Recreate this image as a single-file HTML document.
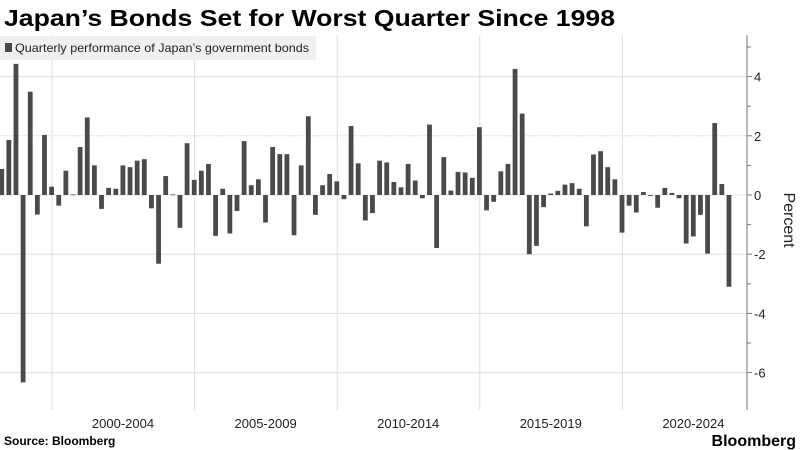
<!DOCTYPE html>
<html><head><meta charset="utf-8"><style>
body{margin:0;background:#fff;font-family:"Liberation Sans",sans-serif;}
#wrap{position:relative;width:800px;height:450px;overflow:hidden;}
</style></head><body>
<div id="wrap">
<svg id="c" width="800" height="450">
<text x="4" y="26" font-size="23" font-weight="bold" fill="#000" textLength="611" lengthAdjust="spacingAndGlyphs">Japan’s Bonds Set for Worst Quarter Since 1998</text>
<g id="grid"></g>
<g id="bars"></g>
<rect x="0" y="36" width="316" height="24" fill="#f0f0f0"/>
<rect x="5" y="43" width="7" height="9" fill="#4a4a4a"/>
<text x="15" y="52" font-size="12" fill="#222" textLength="294" lengthAdjust="spacingAndGlyphs">Quarterly performance of Japan’s government bonds</text>
<g id="axis"></g>
<text transform="translate(784,220) rotate(90)" font-size="16" text-anchor="middle" fill="#222">Percent</text>
<text x="4" y="445" font-size="12" font-weight="bold" fill="#000">Source: Bloomberg</text>
<text x="796" y="446" font-size="16" font-weight="bold" text-anchor="end" fill="#000">Bloomberg</text>
</svg>
</div>
<script>
const values=[0.88,1.86,4.43,-6.33,3.49,-0.66,2.03,0.28,-0.36,0.82,0.02,1.62,2.62,1.0,-0.47,0.24,0.21,1.0,0.94,1.16,1.21,-0.45,-2.32,0.64,0.02,-1.11,1.75,0.51,0.82,1.05,-1.38,0.21,-1.3,-0.54,1.82,
0.33,0.53,-0.93,1.62,1.38,1.38,-1.36,1.0,2.66,-0.67,0.33,0.71,0.46,-0.14,2.33,1.07,-0.86,-0.61,1.16,1.1,0.44,0.26,1.05,0.49,-0.11,2.38,-1.79,1.28,0.15,0.78,0.76,0.58,2.29,-0.52,
-0.23,0.8,1.05,4.26,2.75,-2.0,-1.72,-0.41,0.05,0.14,0.35,0.4,0.21,-1.06,1.37,1.48,0.94,0.53,-1.27,-0.36,-0.59,0.1,-0.03,-0.43,0.24,0.07,-0.11,-1.64,-1.4,-0.67,-1.98,2.43,0.37,-3.1];
const yTicks=[4,2,0,-2,-4,-6];
const periodLabels=["2000-2004","2005-2009","2010-2014","2015-2019","2020-2024"];
const NS="http://www.w3.org/2000/svg";
const y=v=>195-v*29.6;
const step=7.13, x0=1.7;
const x=i=>x0+i*step;
const boundary=k=>52+k*142.6;
function mk(tag,attrs,parent){const e=document.createElementNS(NS,tag);for(const k in attrs)e.setAttribute(k,attrs[k]);parent.appendChild(e);return e;}
const grid=document.getElementById('grid'),bars=document.getElementById('bars'),axis=document.getElementById('axis');
yTicks.forEach(t=>{const l=mk('line',{x1:0,x2:747,y1:y(t),y2:y(t),stroke:'#ddd','stroke-width':1,'stroke-dasharray':t===2||t===0?'2,1':'none'},grid);


const tk=mk('line',{x1:747,x2:752,y1:y(t),y2:y(t),stroke:'#777'},axis);


const tx=mk('text',{x:754,y:y(t)+5,'font-size':13,fill:'#222'},axis);tx.textContent=t;

});
[5,3,1,-1,-3,-5].forEach(t=>{const tk=mk('line',{x1:747,x2:751,y1:y(t),y2:y(t),stroke:'#777'},axis);

});
const ax=mk('line',{x1:747,x2:747,y1:35,y2:410,stroke:'#777'},axis);


periodLabels.forEach((p,k)=>{const l=mk('line',{x1:boundary(k),x2:boundary(k),y1:35,y2:410,stroke:'#ddd'},grid);


const tx=mk('text',{x:boundary(k)+71,y:428,'font-size':13,'text-anchor':'middle',fill:'#222'},axis);tx.textContent=p;

});
values.forEach((v,i)=>{const top=Math.min(y(v),y(0)),h=Math.max(Math.abs(y(v)-y(0)),0.8);
const r=mk('rect',{x:x(i)-2.4,y:top,width:4.8,height:h,fill:'#4a4a4a'},bars);

});
</script>
</body></html>
